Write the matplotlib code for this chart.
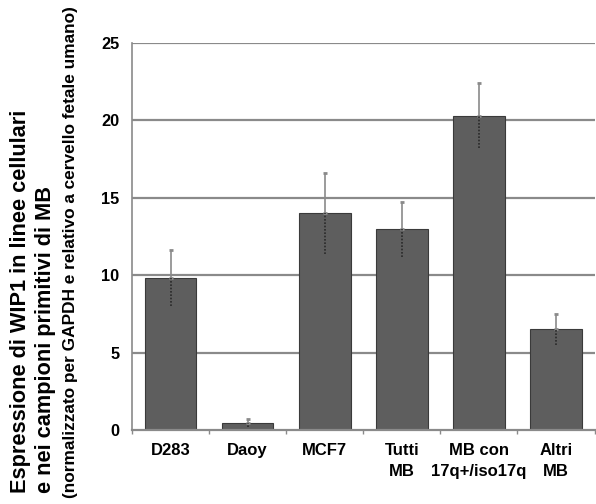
import matplotlib
matplotlib.use("Agg")
import matplotlib.pyplot as plt
import numpy as np

plt.rcParams['font.family'] = ['Liberation Sans', 'DejaVu Sans']
plt.rcParams['font.weight'] = 'bold'

categories = ["D283", "Daoy", "MCF7", "Tutti\nMB", "MB con\n17q+/iso17q", "Altri\nMB"]
values = [9.85, 0.47, 14.0, 13.0, 20.3, 6.5]
err_upper = [11.6, 0.7, 16.6, 14.7, 22.4, 7.5]
err_lower = [8.0, 0.2, 11.4, 11.2, 18.2, 5.5]
yticks = [0, 5, 10, 15, 20, 25]

fig = plt.figure(figsize=(5.96, 5.04), dpi=100)
ax = fig.add_axes([0.2215, 0.1468, 0.776, 0.768])

x = np.arange(len(categories))
vals = np.array(values)
up = np.array(err_upper) - vals
lo = vals - np.array(err_lower)

for yv in yticks[1:]:
    ax.axhline(yv, color='#8a8a8a', lw=1.6, zorder=1)

ax.bar(x, values, width=0.67, color='#5e5e5e', edgecolor='#3a3a3a', lw=0.8, zorder=2)

# upper half of the error bar: solid grey
ax.errorbar(x, vals, yerr=[np.zeros_like(up), up], fmt='none', ecolor='#8a8a8a',
            elinewidth=1.2, capsize=1.5, capthick=2, zorder=3)
# lower half inside the bar: dotted dark
ax.vlines(x, vals - lo, vals, colors='#2a2a2a', linestyles=(0, (1, 1)), lw=1.2, zorder=3)

ax.set_xlim(-0.5, len(categories) - 0.5)
ax.set_ylim(0, 25)
ax.set_yticks(yticks)
ax.set_xticks(x)
ax.set_xticklabels(categories, fontsize=12, fontweight='bold', linespacing=1.5)
ax.tick_params(axis='x', length=0, pad=9)
ax.tick_params(axis='y', length=0, pad=9, labelsize=11.8)
for t in ax.get_yticklabels():
    t.set_fontweight('bold')

# small minor ticks between categories
ax.set_xticks(np.arange(len(categories) + 1) - 0.5, minor=True)
ax.tick_params(axis='x', which='minor', length=3, color='#8a8a8a', width=1)

for s in ['top', 'right']:
    ax.spines[s].set_visible(False)
ax.spines['left'].set_color('#8a8a8a')
ax.spines['left'].set_linewidth(1.2)
ax.spines['bottom'].set_color('#8a8a8a')
ax.spines['bottom'].set_linewidth(1.6)

fig.text(0.034, 0.022, "Espressione di WIP1 in linee cellulari", rotation=90,
         ha='center', va='bottom', fontsize=15.7, fontweight='bold')
fig.text(0.076, 0.022, "e nei campioni primitivi di MB", rotation=90,
         ha='center', va='bottom', fontsize=15.7, fontweight='bold')
fig.text(0.118, 0.012, "(normalizzato per GAPDH e relativo a cervello fetale umano)",
         rotation=90, ha='center', va='bottom', fontsize=12.4, fontweight='bold')

fig.savefig("out.png", dpi=100)
